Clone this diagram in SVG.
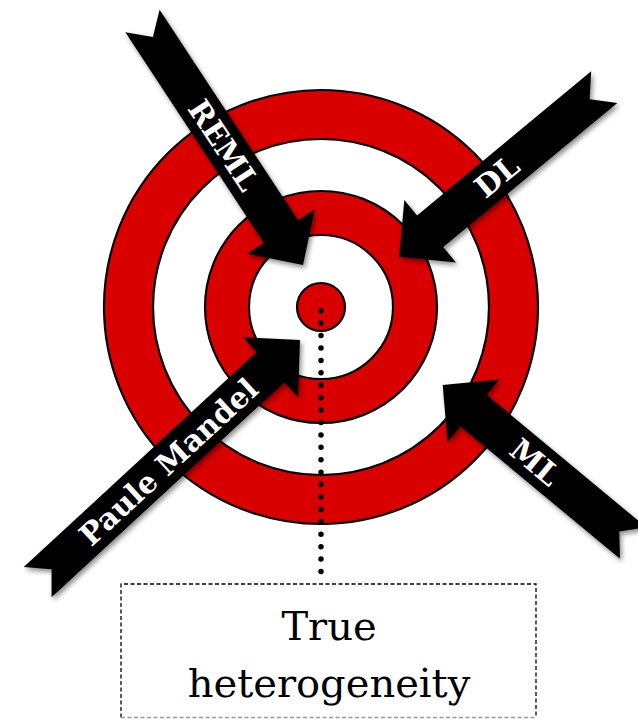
<svg xmlns="http://www.w3.org/2000/svg" width="638" height="719" viewBox="0 0 638 719">
<style>
.ring{stroke:#000;stroke-width:2.2}
.red{fill:#d90000}
.white{fill:#fff}
.arrow{fill:#000}
.lbl{font-family:"DejaVu Serif","Liberation Serif",serif;font-weight:bold;font-size:30px;fill:#fff;text-anchor:middle}
.box{font-family:"DejaVu Serif","Liberation Serif",serif;font-size:40px;fill:#000;text-anchor:middle}
</style>
<defs>
<filter id="sh" x="-20%" y="-20%" width="140%" height="140%">
<feDropShadow dx="2" dy="3" stdDeviation="2.5" flood-color="#000" flood-opacity="0.45"/>
</filter>
</defs>
<rect width="638" height="719" fill="#fff"/>
<g id="target">
<circle class="ring red" cx="321" cy="307" r="217"/>
<circle class="ring white" cx="321" cy="307" r="168"/>
<circle class="ring red" cx="321" cy="307" r="116"/>
<circle class="ring white" cx="321" cy="307" r="72"/>
<circle class="ring red" cx="321" cy="307" r="24"/>
</g>
<g id="connectors">
<line x1="321" y1="310.7" x2="321" y2="583.9" stroke="#000" stroke-width="5.5" stroke-linecap="round" stroke-dasharray="0 12.42"/>
</g>
<g id="true-heterogeneity">
<path d="M121,717.5 V584 H536 V717.5" fill="none" stroke="#000" stroke-width="1.3" stroke-dasharray="4 2.5"/>
<line x1="121" y1="717.5" x2="536" y2="717.5" stroke="#999" stroke-width="1.3" stroke-dasharray="4 2.5"/>
<text class="box" x="329" y="640">True</text>
<text class="box" x="329" y="697">heterogeneity</text>
</g>
<g id="arrow-reml">
<g filter="url(#sh)"><path class="arrow" transform="translate(303,265) rotate(56.65)" d="M-292,-20.5 L-40,-20.5 L-40,-40.5 L0,0 L-40,40.5 L-40,20.5 L-292,20.5 L-273,0 Z"/></g>
<text class="lbl" transform="translate(224,145) rotate(56.65)" y="11">REML</text>
</g>
<g id="arrow-dl">
<g filter="url(#sh)"><path class="arrow" transform="translate(399.3,256.7) rotate(140.4)" d="M-266,-20.5 L-40,-20.5 L-40,-40.5 L0,0 L-40,40.5 L-40,20.5 L-266,20.5 L-247,0 Z"/></g>
<text class="lbl" transform="translate(496.6,176.1) rotate(-39.6)" y="11">DL</text>
</g>
<g id="arrow-ml">
<g filter="url(#sh)"><path class="arrow" transform="translate(442.7,385) rotate(219.7)" d="M-247.5,-20.5 L-40,-20.5 L-40,-40.5 L0,0 L-40,40.5 L-40,20.5 L-247.5,20.5 L-229.5,0 Z"/></g>
<text class="lbl" transform="translate(535.4,462) rotate(39.7)" y="11">ML</text>
</g>
<g id="arrow-paule-mandel">
<g filter="url(#sh)"><path class="arrow" transform="translate(300,340) rotate(-42.7)" d="M-357,-20.5 L-40,-20.5 L-40,-40.5 L0,0 L-40,40.5 L-40,20.5 L-357,20.5 L-338,0 Z"/></g>
<text class="lbl" transform="translate(168.2,461.6) rotate(-42.7)" y="11">Paule Mandel</text>
</g>
</svg>
